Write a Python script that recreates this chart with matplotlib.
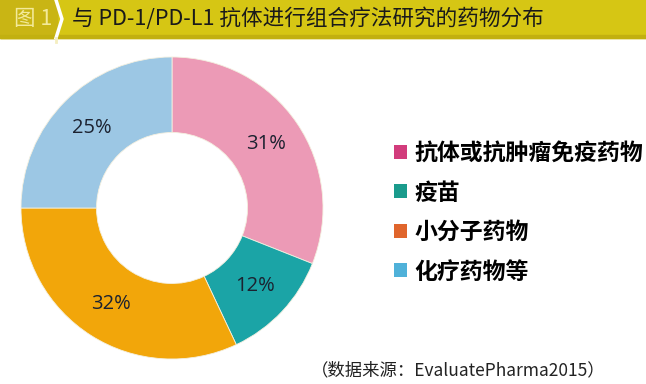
import matplotlib
matplotlib.use("Agg")
import matplotlib.pyplot as plt
from matplotlib.patches import Rectangle, Patch

plt.rcParams['font.family'] = ['Noto Sans CJK SC', 'DejaVu Sans']

# 数据
categories = ['抗体或抗肿瘤免疫药物', '疫苗', '小分子药物', '化疗药物等']
shares = [31, 12, 32, 25]
pie_colors = ['#ec9ab6', '#1ba4a6', '#f2a60a', '#9cc7e4']
legend_colors = ['#d23c7c', '#1a9b8c', '#e0652c', '#4fb1d9']
title = '与 PD-1/PD-L1 抗体进行组合疗法研究的药物分布'
fig_tag = '图 1'
source = '（数据来源：EvaluatePharma2015）'

W, H = 646, 384
fig = plt.figure(figsize=(W / 100, H / 100), dpi=100)

# 背景/标题栏，用像素坐标
bg = fig.add_axes([0, 0, 1, 1])
bg.set_xlim(0, W)
bg.set_ylim(H, 0)
bg.axis('off')
bg.add_patch(Rectangle((0, 0), W, 38, color='#d6c614', zorder=0))
bg.add_patch(Rectangle((0, 0), 57, 38, color='#c9b514', zorder=1))
bg.add_patch(Rectangle((0, 35), W, 3, color='#c2b010', zorder=1))
bg.plot([56, 62, 56], [0, 19, 38], color='white', lw=2.5, zorder=2)
bg.plot([56, 56], [38, 42], color='#f4eec0', lw=2, zorder=2)
bg.text(14, 19, fig_tag, fontsize=15.5, color='#f3ea9a', va='center', ha='left')
bg.text(72, 19, title, fontsize=15.6, color='#1a1a1a', va='center', ha='left',
        weight='medium')
bg.text(606, 370, source, fontsize=12.5, color='#222222', va='center', ha='right')

# 环形图
cx, cy, r = 172, 208, 151
ax = fig.add_axes([(cx - r) / W, (H - cy - r) / H, 2 * r / W, 2 * r / H])
wedges, texts, autotexts = ax.pie(
    shares, colors=pie_colors, startangle=90, counterclock=False,
    autopct='%.0f%%', pctdistance=0.75,
    wedgeprops=dict(width=0.5, edgecolor='#f4f0e0', linewidth=0.6),
    textprops=dict(fontsize=14.5, color='#1c2230', family=['Open Sans', 'DejaVu Sans']))
ax.set_xlim(-1, 1)
ax.set_ylim(-1, 1)

handles = [Patch(facecolor=c, edgecolor='none') for c in legend_colors]
leg = fig.legend(handles, categories, loc='upper left',
                 bbox_to_anchor=(394 / W, 1 - 142 / H), frameon=False,
                 handlelength=0.55, handleheight=0.55, handletextpad=0.35,
                 labelspacing=0.72, borderaxespad=0, borderpad=0,
                 prop=dict(size=16.5, weight='bold'))

fig.savefig('out.png', dpi=100)
